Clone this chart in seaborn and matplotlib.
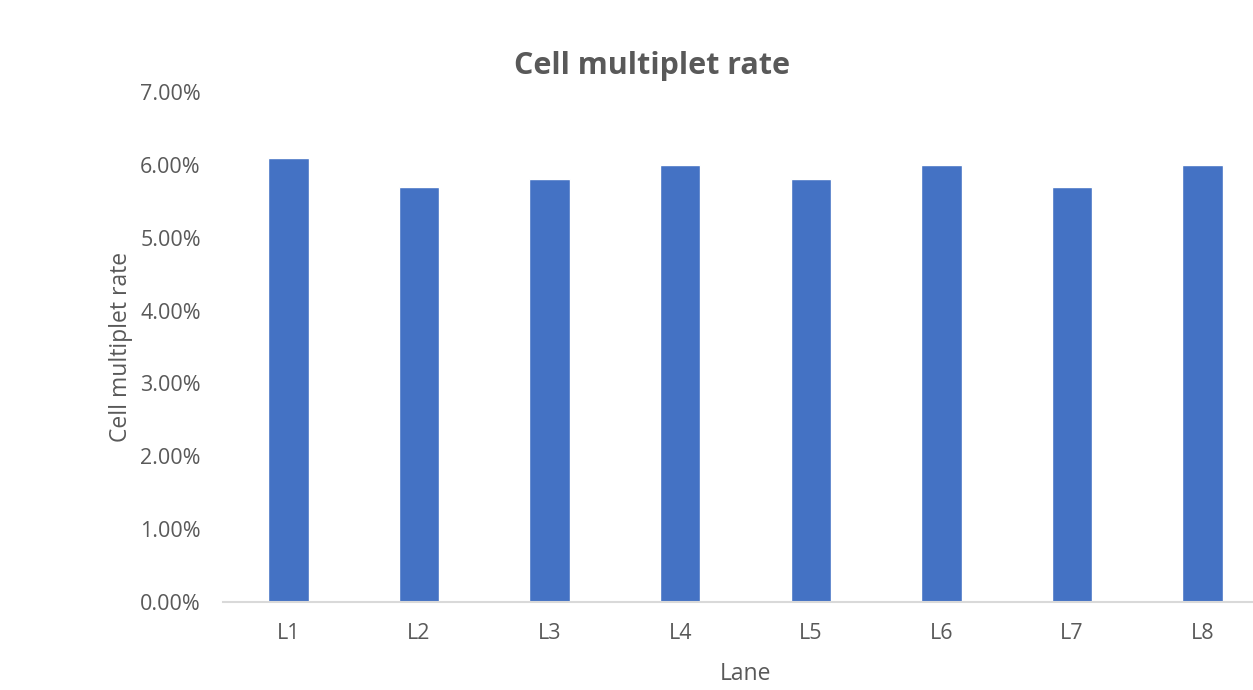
import matplotlib
matplotlib.use("Agg")
import matplotlib.pyplot as plt
import seaborn as sns
from matplotlib.ticker import PercentFormatter

lanes = ["L1", "L2", "L3", "L4", "L5", "L6", "L7", "L8"]
rates = [6.1, 5.7, 5.8, 6.0, 5.8, 6.0, 5.7, 6.0]

sns.set_style("white")
plt.rcParams["font.family"] = ["Open Sans", "DejaVu Sans"]

fig = plt.figure(figsize=(12.53, 6.9), dpi=100)
ax = fig.add_axes([0.178, 0.1275, 0.834, 0.7392])

sns.barplot(x=lanes, y=rates, color="#4472C4", width=0.31, saturation=1, ax=ax)

ax.set_ylim(0, 7)
ax.set_yticks(range(0, 8))
ax.yaxis.set_major_formatter(PercentFormatter(decimals=2))
ax.set_xlim(-0.5, 7.5)

for s in ["top", "right", "left"]:
    ax.spines[s].set_visible(False)
ax.spines["bottom"].set_color("#D9D9D9")
ax.spines["bottom"].set_linewidth(1.5)

ax.tick_params(axis="both", length=0, labelsize=15.5, labelcolor="#595959")
ax.tick_params(axis="y", pad=16)
ax.tick_params(axis="x", pad=15)

ax.set_xlabel("Lane", fontsize=16.5, color="#595959", labelpad=13)
ax.set_ylabel("Cell multiplet rate", fontsize=16.5, color="#595959", labelpad=5)
fig.text(0.52, 0.905, "Cell multiplet rate", ha="center", va="center",
         fontsize=22, fontweight="bold", color="#595959")

fig.savefig("out.png", dpi=100)
